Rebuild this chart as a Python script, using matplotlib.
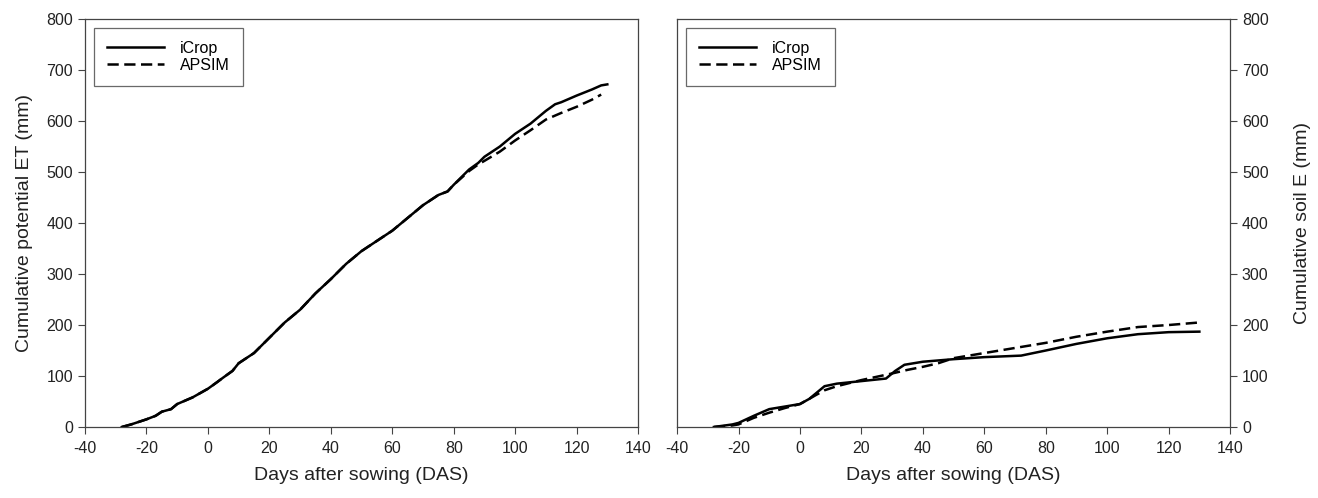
import matplotlib
matplotlib.use("Agg")
import matplotlib.pyplot as plt

plt.rcParams['font.family'] = ['Liberation Sans', 'DejaVu Sans']
plt.rcParams['axes.unicode_minus'] = False

# left panel: cumulative potential ET
et_das_icrop = [-28, -25, -20, -17, -15, -12, -10, -5, 0, 3, 5, 8, 10, 15, 20, 25, 30, 35, 40, 45, 50, 55,
                60, 65, 70, 75, 78, 80, 85, 88, 90, 95, 100, 105, 110, 113, 115, 120, 125, 128, 130]
et_icrop = [0, 5, 15, 22, 30, 35, 45, 58, 75, 88, 97, 110, 125, 145, 175, 205, 230, 262, 290, 320, 345, 365,
            385, 410, 435, 455, 462, 475, 505, 518, 530, 550, 575, 595, 620, 633, 637, 650, 662, 670, 672]
et_das_apsim = [-28, -25, -20, -17, -15, -12, -10, -5, 0, 3, 5, 8, 10, 15, 20, 25, 30, 35, 40, 45, 50, 55,
                60, 65, 70, 75, 78, 80, 85, 88, 90, 95, 100, 105, 110, 115, 120, 125, 128]
et_apsim = [0, 5, 15, 22, 30, 35, 45, 58, 75, 88, 97, 110, 125, 145, 175, 205, 230, 262, 290, 320, 345, 365,
            385, 410, 435, 455, 462, 475, 502, 515, 522, 540, 562, 582, 603, 616, 628, 642, 652]

# right panel: cumulative soil evaporation
se_das_icrop = [-28, -22, -20, -15, -10, -5, 0, 3, 5, 8, 12, 20, 28, 31, 34, 40, 50, 60, 72, 80, 90, 100,
                110, 120, 130]
se_icrop = [0, 5, 8, 22, 35, 40, 45, 55, 65, 80, 85, 90, 95, 110, 122, 128, 133, 137, 140, 150, 163, 174,
            182, 186, 187]
se_das_apsim = [-28, -22, -20, -15, -10, -5, 0, 3, 5, 8, 12, 20, 30, 35, 40, 45, 50, 60, 70, 80, 90, 100,
                110, 120, 130]
se_apsim = [0, 3, 5, 18, 28, 37, 45, 55, 62, 72, 80, 92, 105, 112, 118, 125, 135, 145, 155, 165, 177, 187,
            196, 200, 205]

fig = plt.figure(figsize=(13.18, 4.98), dpi=100)
ax1 = fig.add_axes([0.0645, 0.1426, 0.4196, 0.819])
ax2 = fig.add_axes([0.5137, 0.1426, 0.4196, 0.819])

lw = 1.8
dash = (0, (4.5, 2.2))
for ax in (ax1, ax2):
    ax.set_xlim(-40, 140)
    ax.set_ylim(0, 800)
    ax.set_xticks(range(-40, 141, 20))
    ax.set_yticks(range(0, 801, 100))
    ax.tick_params(labelsize=11.5, direction='out', length=5, width=0.8, color='#444444',
                   labelcolor='#222222')
    ax.tick_params(axis='x', pad=5)
    for s in ax.spines.values():
        s.set_linewidth(0.9)
        s.set_color('#444444')
    ax.set_xlabel('Days after sowing (DAS)', fontsize=14, color='#222222', labelpad=8)

ax1.plot(et_das_icrop, et_icrop, color='black', lw=lw, label='iCrop')
ax1.plot(et_das_apsim, et_apsim, color='black', lw=lw, linestyle=dash, label='APSIM')
ax1.set_ylabel('Cumulative potential ET (mm)', fontsize=14, color='#222222', labelpad=10)

ax2.plot(se_das_icrop, se_icrop, color='black', lw=lw, label='iCrop')
ax2.plot(se_das_apsim, se_apsim, color='black', lw=lw, linestyle=dash, label='APSIM')
ax2.yaxis.tick_right()
ax2.yaxis.set_label_position('right')
ax2.set_ylabel('Cumulative soil E (mm)', fontsize=14, color='#222222', labelpad=18)

for ax in (ax1, ax2):
    leg = ax.legend(loc='upper left', fontsize=11.5, frameon=True, fancybox=False, handlelength=3.6,
                    borderpad=0.8, labelspacing=0.15, handletextpad=1.0, borderaxespad=0.55)
    leg.get_frame().set_edgecolor('#444444')
    leg.get_frame().set_linewidth(0.9)

fig.savefig('out.png', dpi=100)
